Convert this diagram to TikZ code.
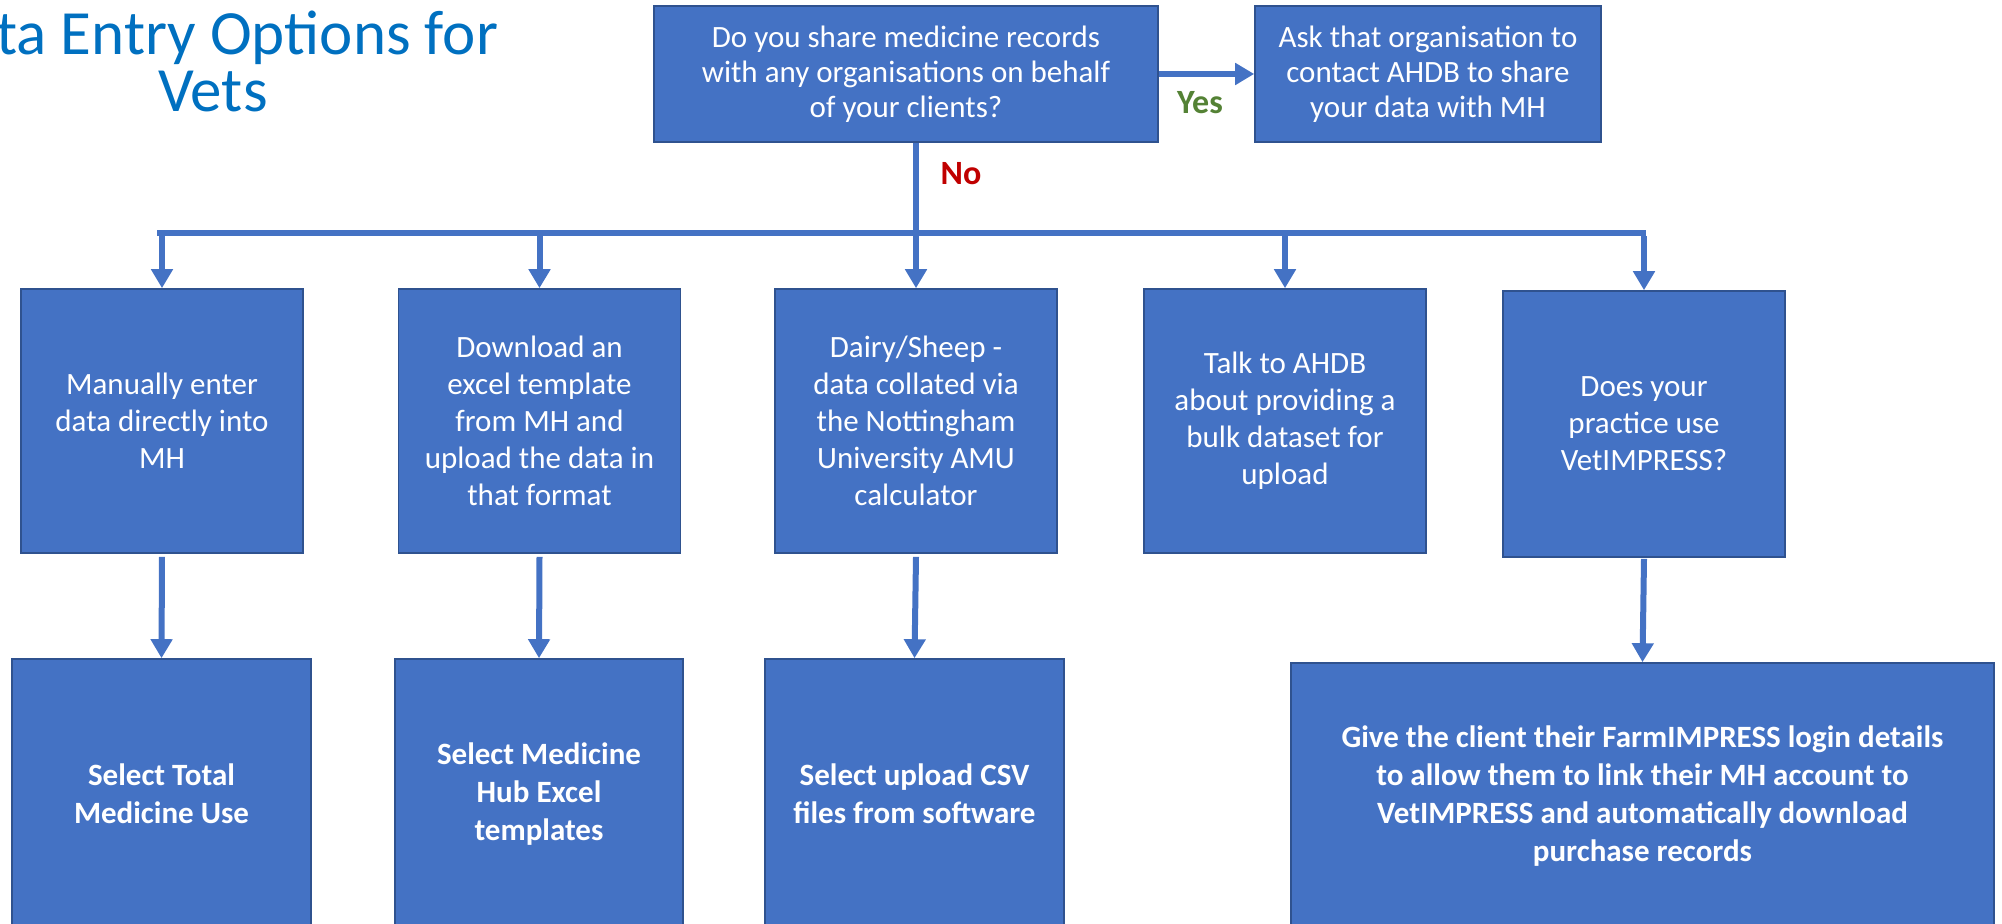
\documentclass[tikz,border=0pt]{standalone}
\usepackage{fontspec}
\setmainfont{Carlito}
\usetikzlibrary{arrows.meta}
\definecolor{boxfill}{HTML}{4472C4}
\definecolor{boxline}{HTML}{2F528F}
\definecolor{titleblue}{HTML}{0070C0}
\definecolor{yesgreen}{HTML}{548235}
\definecolor{nored}{HTML}{C00000}
\tikzset{
  box/.style={draw=boxline, fill=boxfill, text=white, align=center, inner sep=0pt, line width=0.8pt,
    font=\fontsize{15.5}{18.5}\selectfont},
  boldbox/.style={box, font=\fontsize{15.5}{19}\selectfont\bfseries},
  arr/.style={draw=boxfill, line width=3pt, -{Triangle[width=10.5pt,length=9.5pt]}},
  ln/.style={draw=boxfill, line width=2.8pt},
  lbl/.style={font=\fontsize{17}{20}\selectfont\bfseries, inner sep=0pt},
  ttl/.style={anchor=base, text=titleblue, font=\fontsize{31.5}{34}\selectfont, inner sep=0pt}
}
\begin{document}
\begin{tikzpicture}[x=0.5pt,y=-0.5pt]
\useasboundingbox (0,0) rectangle (2002,924);
% title
\node[ttl] (t1) at (213,55) {Data Entry Options for};
\node[ttl] (t2) at (213,112) {Vets};
% top row
\node[box, minimum width=252pt, minimum height=68pt, font=\fontsize{15.5}{17.5}\selectfont] (q1) at (906,74) {Do you share medicine records\\with any organisations on behalf\\of your clients?};
\node[box, minimum width=173pt, minimum height=68pt, font=\fontsize{15.5}{17.5}\selectfont] (ask) at (1428,74) {Ask that organisation to\\contact AHDB to share\\your data with MH};
% second row
\node[box, minimum width=141pt, minimum height=132pt] (b1) at (162,421) {Manually enter\\data directly into\\MH};
\node[box, minimum width=141pt, minimum height=132pt] (b2) at (539.5,421) {Download an\\excel template\\from MH and\\upload the data in\\that format};
\node[box, minimum width=141pt, minimum height=132pt] (b3) at (916,421) {Dairy/Sheep -\\data collated via\\the Nottingham\\University AMU\\calculator};
\node[box, minimum width=141pt, minimum height=132pt] (b4) at (1285,421) {Talk to AHDB\\about providing a\\bulk dataset for\\upload};
\node[box, minimum width=141pt, minimum height=133pt] (b5) at (1644,424) {Does your\\practice use\\VetIMPRESS?};
% third row
\node[boldbox, minimum width=149.5pt, minimum height=135pt] (c1) at (161.5,794) {Select Total\\Medicine Use};
\node[boldbox, minimum width=144pt, minimum height=135pt] (c2) at (539,794) {Select Medicine\\Hub Excel\\templates};
\node[boldbox, minimum width=149.5pt, minimum height=135pt] (c3) at (914.5,794) {Select upload CSV\\files from software};
\node[boldbox, minimum width=351.5pt, minimum height=133.5pt] (c4) at (1642.5,796.5) {Give the client their FarmIMPRESS login details\\to allow them to link their MH account to\\VetIMPRESS and automatically download\\purchase records};
% connectors
\draw[arr] (q1.east) -- (ask.west);
\node[lbl, text=yesgreen] (yes) at (1200,103) {Yes};
\node[lbl, text=nored] (no) at (961,174) {No};
\coordinate (hl) at (157,233);
\coordinate (hr) at (1646,233);
\draw[ln] (hl) -- (hr);
\draw[arr] (b3.north |- q1.south) -- (b3.north);
\draw[arr] (b1.north |- hl) -- (b1.north);
\draw[arr] (b2.north |- hl) -- (b2.north);
\draw[arr] (b4.north |- hl) -- (b4.north);
\draw[arr] ([yshift=-1.4pt]b5.north |- hl) -- (b5.north);
\draw[arr] ([yshift=-1.5pt]b1.south) -- (c1.north);
\draw[arr] ([yshift=-1.5pt]b2.south) -- (c2.north);
\draw[arr] ([yshift=-1.5pt]b3.south) -- (c3.north);
\draw[arr] ([yshift=-0.5pt]b5.south) -- (c4.north);
\end{tikzpicture}
\end{document}
